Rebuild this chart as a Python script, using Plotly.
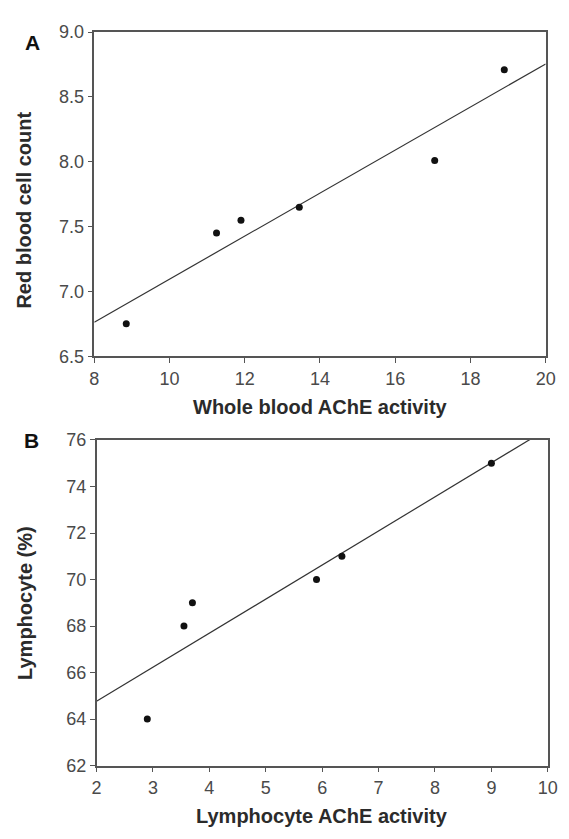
import numpy as np
import plotly.graph_objects as go

# Panel A: whole blood AChE activity vs red blood cell count
whole_blood_ache = [8.85, 11.25, 11.9, 13.45, 17.05, 18.9]
rbc_count = [6.75, 7.45, 7.55, 7.65, 8.01, 8.71]

# Panel B: lymphocyte AChE activity vs lymphocyte percentage
lymph_ache = [2.9, 3.55, 3.7, 5.9, 6.35, 9.0]
lymph_pct = [64, 68, 69, 70, 71, 75]

a_xticks = [8, 10, 12, 14, 16, 18, 20]
a_yticks = [6.5, 7.0, 7.5, 8.0, 8.5, 9.0]
b_xticks = [2, 3, 4, 5, 6, 7, 8, 9, 10]
b_yticks = [62, 64, 66, 68, 70, 72, 74, 76]

a_xrange = [8, 20]
a_yrange = [6.5, 9.0]
b_xrange = [2, 10]
b_yrange = [62, 76]

FONT = "Liberation Sans, Arial, sans-serif"
AXIS_COLOR = "#555555"
TICK_COLOR = "#4a4a4a"
TITLE_COLOR = "#2b2b2b"


def fit_line(x, y, xr):
    slope, intercept = np.polyfit(x, y, 1)
    xs = np.array(xr, dtype=float)
    return xs, slope * xs + intercept


fig = go.Figure()

# regression lines
lx, ly = fit_line(whole_blood_ache, rbc_count, a_xrange)
fig.add_trace(go.Scatter(x=lx, y=ly, mode="lines",
                         line=dict(color="#333333", width=1.2),
                         xaxis="x", yaxis="y", showlegend=False, hoverinfo="skip"))
lx2, ly2 = fit_line(lymph_ache, lymph_pct, b_xrange)
fig.add_trace(go.Scatter(x=lx2, y=ly2, mode="lines",
                         line=dict(color="#333333", width=1.2),
                         xaxis="x2", yaxis="y2", showlegend=False, hoverinfo="skip"))

# data points
fig.add_trace(go.Scatter(x=whole_blood_ache, y=rbc_count, mode="markers",
                         marker=dict(color="#111111", size=7),
                         xaxis="x", yaxis="y", showlegend=False))
fig.add_trace(go.Scatter(x=lymph_ache, y=lymph_pct, mode="markers",
                         marker=dict(color="#111111", size=7),
                         xaxis="x2", yaxis="y2", showlegend=False))

H, W = 839, 569


def axis_common(tickvals, rng, ticktext=None):
    d = dict(range=rng, tickvals=tickvals, showline=True, mirror=True,
             linecolor=AXIS_COLOR, linewidth=1.5, ticks="outside", ticklen=5,
             tickwidth=1.2, tickcolor=AXIS_COLOR, showgrid=False, zeroline=False,
             tickfont=dict(family=FONT, size=18, color=TICK_COLOR), fixedrange=True)
    if ticktext is not None:
        d["ticktext"] = ticktext
    return d


fig.update_layout(
    width=W, height=H,
    margin=dict(l=0, r=0, t=0, b=0),
    paper_bgcolor="white", plot_bgcolor="white",
    xaxis=dict(domain=[91.7 / W, 555.3 / W], anchor="y",
               **axis_common(a_xticks, a_xrange)),
    yaxis=dict(domain=[1 - 354.7 / H, 1 - 22.7 / H], anchor="x",
               **axis_common(a_yticks, a_yrange,
                             [f"{v:.1f}" for v in a_yticks])),
    xaxis2=dict(domain=[94 / W, 557.5 / W], anchor="y2",
                **axis_common(b_xticks, b_xrange)),
    yaxis2=dict(domain=[1 - 774 / H, 1 - 440.5 / H], anchor="x2",
                **axis_common(b_yticks, b_yrange)),
)


def ann(text, x, y, size, angle=0, bold=True, color=TITLE_COLOR):
    fig.add_annotation(text=f"<b>{text}</b>" if bold else text,
                       x=x / W, y=1 - y / H, xref="paper", yref="paper",
                       showarrow=False, textangle=angle,
                       font=dict(family=FONT, size=size, color=color),
                       xanchor="center", yanchor="middle")


# panel letters
ann("A", 28, 33, 21, color="#111111")
ann("B", 27, 441, 21, color="#111111")

# axis titles
ann("Red blood cell count", 20, 205, 20, angle=-90)
ann("Whole blood AChE activity", 324, 407, 20)
ann("Lymphocyte (%)", 20, 607, 20, angle=-90)
ann("Lymphocyte AChE activity", 326, 826, 20)

fig.write_html("out.html")
